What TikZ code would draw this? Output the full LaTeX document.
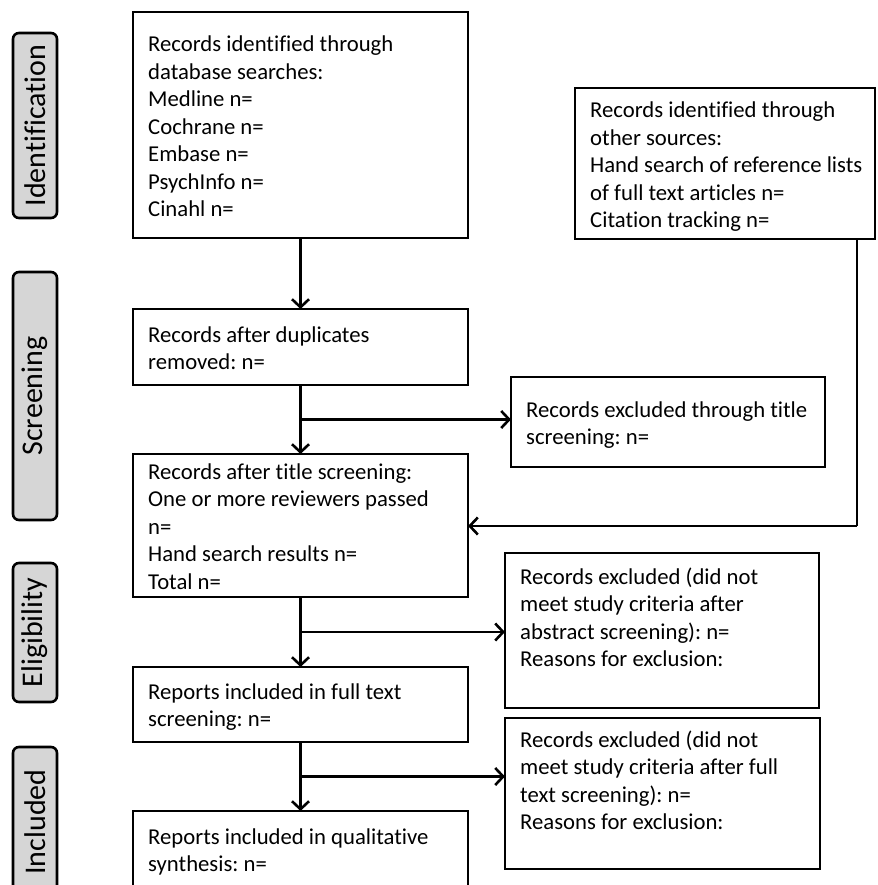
\documentclass[tikz,border=0pt]{standalone}
\usepackage{fontspec}
\setmainfont{Carlito}[Ligatures=NoCommon]
\frenchspacing
\usetikzlibrary{arrows.meta,calc}
\definecolor{labgray}{HTML}{D6D6D6}
\begin{document}
\begin{tikzpicture}[x=1pt,y=-1pt,
  box/.style={draw, line width=2.6pt, anchor=north west, inner sep=0pt, outer sep=0pt},
  txt/.style={anchor=base west, inner sep=0pt, align=left, font=\fontsize{22.7}{27.5}\selectfont},
  stage/.style={draw, line width=2.6pt, fill=labgray, rounded corners=6pt, rotate=90,
    minimum height=44pt, inner sep=0pt, font=\fontsize{30}{36}\selectfont},
  arr/.style={line width=2.6pt, -{Straight Barb[length=8pt,width=17pt]}},
  ln/.style={line width=2.6pt}]
\useasboundingbox (0,0) rectangle (877,885);
\clip (0,0) rectangle (877,885);
% stage labels
\node[stage, minimum width=185pt] (sid) at (35,125.5) {Identification};
\node[stage, minimum width=248pt] (sscr) at (35,396) {Screening};
\node[stage, minimum width=139pt] (selg) at (35,632.5) {Eligibility};
\node[stage, minimum width=150pt] (sinc) at (35,822) {Included};
% main boxes
\node[box, minimum width=335pt, minimum height=226pt] (b1) at (133,12) {};
\node[box, minimum width=335pt, minimum height=76pt] (b2) at (133,309) {};
\node[box, minimum width=335pt, minimum height=143pt] (b3) at (133,454) {};
\node[box, minimum width=335pt, minimum height=75pt] (b4) at (133,667) {};
\node[box, minimum width=335pt, minimum height=95pt] (b5) at (133,811) {};
\node[box, minimum width=300pt, minimum height=151pt] (oth) at (575,88) {};
\node[box, minimum width=314pt, minimum height=90pt] (ex1) at (511,377) {};
\node[box, minimum width=314pt, minimum height=155pt] (ex2) at (505,553) {};
\node[box, minimum width=315pt, minimum height=151pt] (ex3) at (505,718) {};
% texts (anchored at the baseline of their last line)
\node[txt] (t1) at (148,217) {Records identified through\\database searches:\\Medline n=\\Cochrane n=\\Embase n=\\PsychInfo n=\\Cinahl n=};
\node[txt] (t2) at (148,369.5) {Records after duplicates\\removed: n=};
\node[txt] (t3) at (148,589) {Records after title screening:\\One or more reviewers passed\\n=\\Hand search results n=\\Total n=};
\node[txt] (t4) at (148,726.5) {Reports included in full text\\screening: n=};
\node[txt] (t5) at (148,871.5) {Reports included in qualitative\\synthesis: n=};
\node[txt] (toth) at (590,228) {Records identified through\\other sources:\\Hand search of reference lists\\of full text articles n=\\Citation tracking n=};
\node[txt] (tex1) at (526,444.5) {Records excluded through title\\screening: n=};
\node[txt] (tex2) at (520,666.5) {Records excluded (did not\\meet study criteria after\\abstract screening): n=\\Reasons for exclusion:};
\node[txt] (tex3) at (520,829.5) {Records excluded (did not\\meet study criteria after full\\text screening): n=\\Reasons for exclusion:};
% connectors
\draw[arr] (b1.south) -- (b2.north);
\draw[arr] (b2.south) -- (b3.north);
\draw[arr] (b3.south) -- (b4.north);
\draw[arr] (b4.south) -- (b5.north);
\coordinate (j1) at ($(b2.south)!0.5!(b3.north)$);
\coordinate (j2) at ($(b3.south)!0.5!(b4.north)$);
\coordinate (j3) at ($(b4.south)!0.5!(b5.north)$);
\draw[arr] (j1) -- (j1 -| ex1.west);
\draw[arr] (j2) -- (j2 -| ex2.west);
\draw[arr] (j3) -- (j3 -| ex3.west);
\coordinate (fb) at (857,526);
\draw[ln] (fb |- oth.south) -- (fb);
\draw[arr] (fb) -- (fb -| b3.east);
\end{tikzpicture}
\end{document}
